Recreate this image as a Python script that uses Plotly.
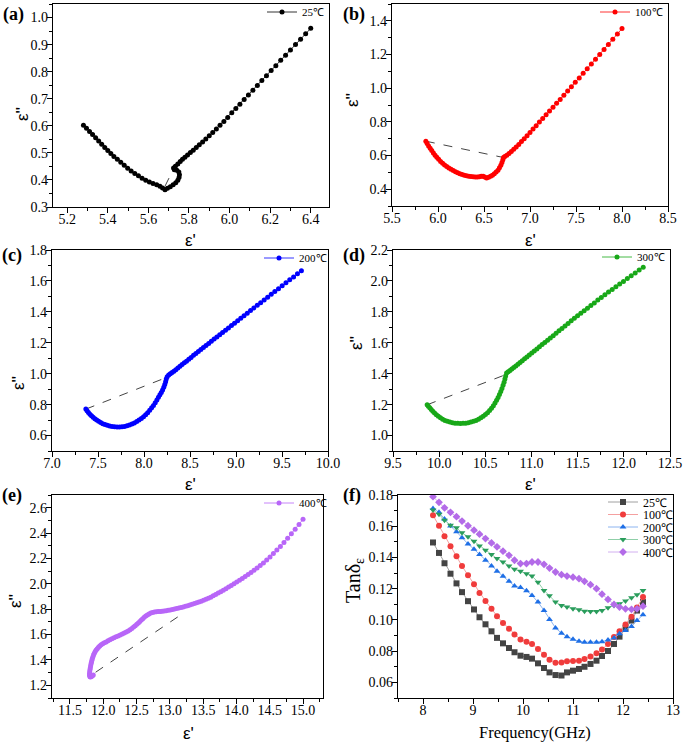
import plotly.graph_objects as go

# ---------------- data ----------------
# (a) 25 C  Cole-Cole
a_eps1 = [6.400, 6.375, 6.350, 6.325, 6.300, 6.276, 6.252, 6.228, 6.205, 6.182,
          6.159, 6.137, 6.115, 6.093, 6.072, 6.051, 6.031, 6.011, 5.991, 5.972,
          5.953, 5.935, 5.917, 5.900, 5.883, 5.867, 5.851, 5.836, 5.821, 5.807,
          5.793, 5.780, 5.768,
          5.757, 5.745, 5.733, 5.724, 5.728, 5.740, 5.750, 5.753, 5.751, 5.745,
          5.735, 5.722, 5.708, 5.694, 5.682,
          5.670, 5.657, 5.641, 5.623, 5.605, 5.587, 5.569, 5.551, 5.533, 5.515,
          5.498, 5.481, 5.464, 5.447, 5.430, 5.415, 5.400, 5.385, 5.370, 5.355,
          5.340, 5.325, 5.310, 5.295, 5.280]
a_eps2 = [0.960, 0.940, 0.920, 0.900, 0.880, 0.861, 0.842, 0.822, 0.804, 0.785,
          0.767, 0.749, 0.731, 0.714, 0.697, 0.680, 0.664, 0.648, 0.631, 0.616,
          0.602, 0.588, 0.575, 0.563, 0.551, 0.540, 0.530, 0.520, 0.510, 0.501,
          0.492, 0.484, 0.476,
          0.468, 0.459, 0.451, 0.444, 0.438, 0.436, 0.429, 0.419, 0.409, 0.399,
          0.390, 0.382, 0.375, 0.369, 0.364,
          0.370, 0.377, 0.382, 0.387, 0.392, 0.399, 0.406, 0.415, 0.424, 0.433,
          0.443, 0.454, 0.465, 0.476, 0.487, 0.498, 0.509, 0.520, 0.532, 0.544,
          0.556, 0.568, 0.579, 0.591, 0.602]
a_dash_x = [5.682, 5.726]
a_dash_y = [0.377, 0.444]

# (b) 100 C
b_eps1 = [8.000, 7.950, 7.900, 7.852, 7.805, 7.758, 7.712, 7.667, 7.622, 7.578,
          7.535, 7.492, 7.450, 7.409, 7.368, 7.328, 7.289, 7.250, 7.212, 7.175,
          7.138, 7.102, 7.067, 7.033, 7.000, 6.968, 6.937, 6.907, 6.878, 6.850,
          6.823, 6.797, 6.772, 6.748, 6.726, 6.712,
          6.705, 6.695, 6.683, 6.668, 6.652, 6.632, 6.612, 6.592, 6.572, 6.550,
          6.528, 6.508, 6.490, 6.470, 6.450, 6.428, 6.405, 6.382, 6.358, 6.334,
          6.310, 6.286, 6.262, 6.238, 6.214, 6.190, 6.166, 6.142, 6.118, 6.095,
          6.072, 6.050, 6.028, 6.007, 5.987, 5.968, 5.950, 5.932, 5.915, 5.898,
          5.882, 5.868]
b_eps2 = [1.354, 1.322, 1.290, 1.260, 1.230, 1.200, 1.172, 1.144, 1.115, 1.088,
          1.061, 1.035, 1.009, 0.983, 0.958, 0.933, 0.910, 0.887, 0.864, 0.842,
          0.820, 0.799, 0.777, 0.757, 0.737, 0.718, 0.700, 0.683, 0.666, 0.651,
          0.637, 0.624, 0.612, 0.601, 0.594, 0.588,
          0.575, 0.558, 0.542, 0.527, 0.513, 0.502, 0.492, 0.483, 0.476, 0.471,
          0.467, 0.472, 0.477, 0.476, 0.474, 0.473, 0.473, 0.474, 0.475, 0.477,
          0.480, 0.483, 0.487, 0.492, 0.498, 0.504, 0.511, 0.518, 0.526, 0.534,
          0.544, 0.554, 0.565, 0.577, 0.589, 0.602, 0.615, 0.629, 0.643, 0.657,
          0.671, 0.685]
b_dash_x = [5.868, 6.712]
b_dash_y = [0.685, 0.588]

# (c) 200 C
c_eps1 = [9.711, 9.668, 9.626, 9.584, 9.543, 9.502, 9.462, 9.422, 9.383, 9.344,
          9.306, 9.268, 9.231, 9.194, 9.158, 9.122, 9.087, 9.052, 9.018, 8.984,
          8.951, 8.918, 8.886, 8.854, 8.823, 8.792, 8.762, 8.732, 8.703, 8.674,
          8.646, 8.618, 8.591, 8.564, 8.538, 8.512, 8.487, 8.462, 8.438, 8.414,
          8.391, 8.368, 8.346, 8.325, 8.305, 8.286, 8.268,
          8.252, 8.242, 8.235, 8.226, 8.215, 8.202, 8.188, 8.173, 8.157, 8.140,
          8.122, 8.103, 8.083, 8.062, 8.040, 8.018, 7.995, 7.971, 7.946, 7.921,
          7.895, 7.869, 7.842, 7.815, 7.788, 7.761, 7.734, 7.707, 7.680, 7.653,
          7.627, 7.601, 7.576, 7.552, 7.529, 7.507, 7.486, 7.466, 7.447, 7.429,
          7.412, 7.396, 7.381, 7.368]
c_eps2 = [1.666, 1.646, 1.626, 1.607, 1.588, 1.568, 1.550, 1.531, 1.513, 1.495,
          1.477, 1.459, 1.442, 1.425, 1.408, 1.391, 1.375, 1.359, 1.343, 1.327,
          1.312, 1.296, 1.281, 1.266, 1.252, 1.238, 1.224, 1.210, 1.196, 1.183,
          1.170, 1.156, 1.144, 1.131, 1.119, 1.105, 1.093, 1.081, 1.070, 1.059,
          1.048, 1.037, 1.026, 1.016, 1.007, 0.999, 0.992,
          0.980, 0.965, 0.948, 0.930, 0.912, 0.894, 0.879, 0.864, 0.847, 0.830,
          0.812, 0.795, 0.779, 0.763, 0.748, 0.734, 0.722, 0.711, 0.700, 0.690,
          0.681, 0.674, 0.668, 0.663, 0.659, 0.657, 0.656, 0.656, 0.657, 0.659,
          0.662, 0.666, 0.671, 0.677, 0.684, 0.692, 0.700, 0.709, 0.718, 0.728,
          0.738, 0.749, 0.760, 0.771]
c_dash_x = [7.368, 8.242]
c_dash_y = [0.771, 0.975]

# (d) 300 C
d_eps1 = [12.210, 12.166, 12.123, 12.080, 12.038, 11.996, 11.955, 11.914, 11.874, 11.834,
          11.795, 11.756, 11.718, 11.680, 11.643, 11.606, 11.570, 11.534, 11.499, 11.464,
          11.430, 11.396, 11.363, 11.330, 11.298, 11.266, 11.235, 11.204, 11.174, 11.144,
          11.115, 11.086, 11.058, 11.030, 11.003, 10.976, 10.950, 10.925, 10.900, 10.876,
          10.853, 10.830, 10.808, 10.787, 10.767, 10.748, 10.730,
          10.720, 10.712, 10.703, 10.692, 10.680, 10.667, 10.653, 10.638, 10.622, 10.605,
          10.587, 10.567, 10.546, 10.524, 10.501, 10.477, 10.452, 10.426, 10.399, 10.372,
          10.344, 10.316, 10.288, 10.259, 10.230, 10.201, 10.172, 10.144, 10.116, 10.089,
          10.063, 10.038, 10.014, 9.991, 9.970, 9.950, 9.931, 9.914, 9.898, 9.883,
          9.870]
d_eps2 = [2.088, 2.070, 2.052, 2.033, 2.015, 1.997, 1.980, 1.962, 1.945, 1.928,
          1.911, 1.893, 1.876, 1.858, 1.841, 1.824, 1.807, 1.791, 1.775, 1.758,
          1.742, 1.725, 1.709, 1.693, 1.677, 1.661, 1.646, 1.631, 1.616, 1.602,
          1.588, 1.574, 1.560, 1.547, 1.534, 1.521, 1.508, 1.496, 1.484, 1.472,
          1.461, 1.450, 1.440, 1.430, 1.421, 1.412, 1.404,
          1.385, 1.365, 1.345, 1.325, 1.305, 1.285, 1.265, 1.246, 1.228, 1.210,
          1.193, 1.177, 1.162, 1.148, 1.136, 1.125, 1.115, 1.106, 1.098, 1.092,
          1.087, 1.083, 1.080, 1.079, 1.078, 1.079, 1.080, 1.083, 1.087, 1.092,
          1.098, 1.106, 1.115, 1.125, 1.135, 1.146, 1.157, 1.168, 1.179, 1.190,
          1.199]
d_dash_x = [9.870, 10.725]
d_dash_y = [1.199, 1.395]

# (e) 400 C
e_eps1 = [15.000, 14.940, 14.882, 14.825, 14.769, 14.714, 14.660, 14.607, 14.555, 14.504,
          14.454, 14.405, 14.357, 14.310, 14.264, 14.219, 14.175, 14.131, 14.088, 14.046,
          14.004, 13.963, 13.922, 13.882, 13.842, 13.803, 13.764, 13.726, 13.688, 13.651,
          13.614, 13.578, 13.542, 13.506, 13.471, 13.436, 13.402, 13.368, 13.334, 13.300,
          13.267, 13.234, 13.201, 13.168, 13.135, 13.102, 13.070, 13.038, 13.006, 12.975,
          12.944, 12.914, 12.884, 12.855, 12.826, 12.797, 12.768, 12.740, 12.713, 12.687,
          12.662, 12.638, 12.615, 12.593, 12.571, 12.549, 12.527, 12.504, 12.480, 12.455,
          12.429, 12.402, 12.374, 12.345, 12.315, 12.285, 12.254, 12.223, 12.192, 12.161,
          12.130, 12.100, 12.071, 12.043, 12.016, 11.991, 11.968, 11.947, 11.928, 11.910,
          11.894, 11.879, 11.866, 11.855, 11.845, 11.836, 11.829, 11.822, 11.816, 11.810,
          11.805, 11.800, 11.796, 11.793, 11.794, 11.800, 11.810, 11.823, 11.837, 11.850]
e_eps2 = [2.508, 2.468, 2.430, 2.394, 2.359, 2.326, 2.295, 2.266, 2.238, 2.212,
          2.188, 2.165, 2.145, 2.125, 2.106, 2.089, 2.073, 2.057, 2.042, 2.028,
          2.014, 2.000, 1.987, 1.974, 1.961, 1.949, 1.938, 1.927, 1.916, 1.905,
          1.895, 1.886, 1.878, 1.870, 1.863, 1.856, 1.850, 1.844, 1.838, 1.833,
          1.828, 1.823, 1.818, 1.813, 1.809, 1.805, 1.801, 1.797, 1.794, 1.791,
          1.788, 1.786, 1.784, 1.782, 1.781, 1.780, 1.777, 1.774, 1.769, 1.762,
          1.755, 1.746, 1.736, 1.725, 1.714, 1.703, 1.692, 1.681, 1.670, 1.659,
          1.648, 1.638, 1.629, 1.620, 1.612, 1.604, 1.596, 1.589, 1.582, 1.574,
          1.567, 1.559, 1.551, 1.542, 1.535, 1.527, 1.519, 1.510, 1.500, 1.489,
          1.478, 1.466, 1.453, 1.440, 1.426, 1.412, 1.397, 1.382, 1.367, 1.352,
          1.337, 1.322, 1.307, 1.292, 1.278, 1.268, 1.266, 1.270, 1.276, 1.282]
e_dash_x = [11.885, 13.175]
e_dash_y = [1.303, 1.759]

# (f) tan delta vs frequency
freq = [8.20, 8.32, 8.43, 8.55, 8.67, 8.78, 8.90, 9.02, 9.13, 9.25,
        9.37, 9.48, 9.60, 9.72, 9.83, 9.95, 10.07, 10.18, 10.30, 10.42,
        10.53, 10.65, 10.77, 10.88, 11.00, 11.12, 11.23, 11.35, 11.47, 11.58,
        11.70, 11.82, 11.93, 12.05, 12.17, 12.28, 12.40]
tan_25 = [0.1496, 0.1429, 0.1363, 0.1296, 0.1234, 0.1178, 0.1120, 0.1067, 0.1017, 0.0972,
          0.0927, 0.0885, 0.0850, 0.0820, 0.0793, 0.0771, 0.0763, 0.0752, 0.0722, 0.0692,
          0.0664, 0.0647, 0.0644, 0.0664, 0.0675, 0.0686, 0.0700, 0.0718, 0.0739, 0.0769,
          0.0801, 0.0846, 0.0893, 0.0947, 0.0996, 0.1060, 0.1114]
tan_100 = [0.1670, 0.1603, 0.1536, 0.1472, 0.1408, 0.1345, 0.1286, 0.1228, 0.1172, 0.1121,
           0.1072, 0.1024, 0.0981, 0.0943, 0.0906, 0.0874, 0.0861, 0.0846, 0.0814, 0.0777,
           0.0745, 0.0726, 0.0728, 0.0735, 0.0737, 0.0739, 0.0750, 0.0765, 0.0786, 0.0810,
           0.0846, 0.0890, 0.0928, 0.0970, 0.1020, 0.1080, 0.1146]
tan_200 = [0.1714, 0.1689, 0.1646, 0.1601, 0.1564, 0.1526, 0.1487, 0.1453, 0.1419, 0.1382,
           0.1345, 0.1311, 0.1279, 0.1247, 0.1217, 0.1207, 0.1187, 0.1157, 0.1114, 0.1061,
           0.1003, 0.0949, 0.0915, 0.0893, 0.0876, 0.0863, 0.0857, 0.0857, 0.0857, 0.0861,
           0.0872, 0.0885, 0.0911, 0.0932, 0.0958, 0.0996, 0.1033]
tan_300 = [0.1704, 0.1676, 0.1639, 0.1607, 0.1590, 0.1558, 0.1532, 0.1504, 0.1474, 0.1446,
           0.1419, 0.1393, 0.1371, 0.1345, 0.1324, 0.1311, 0.1296, 0.1281, 0.1242, 0.1189,
           0.1155, 0.1114, 0.1093, 0.1082, 0.1071, 0.1065, 0.1056, 0.1054, 0.1054, 0.1061,
           0.1078, 0.1093, 0.1104, 0.1121, 0.1142, 0.1161, 0.1189]
tan_400 = [0.1789, 0.1753, 0.1718, 0.1689, 0.1661, 0.1633, 0.1603, 0.1575, 0.1549, 0.1521,
           0.1493, 0.1468, 0.1440, 0.1414, 0.1382, 0.1361, 0.1361, 0.1371, 0.1371, 0.1356,
           0.1332, 0.1307, 0.1290, 0.1281, 0.1274, 0.1264, 0.1247, 0.1226, 0.1200, 0.1165,
           0.1131, 0.1099, 0.1082, 0.1071, 0.1068, 0.1071, 0.1088]

temp_labels = ["25℃", "100℃", "200℃", "300℃", "400℃"]
panel_labels = ["(a)", "(b)", "(c)", "(d)", "(e)", "(f)"]

# ---------------- figure ----------------
W, H = 685, 745
SERIF = "Liberation Serif"
SANS = "Liberation Sans"

def px_x(p):
    return p / W

def px_y(p):
    return 1 - p / H

fig = go.Figure()

cole = [
    (a_eps1, a_eps2, a_dash_x, a_dash_y, "#000000", temp_labels[0]),
    (b_eps1, b_eps2, b_dash_x, b_dash_y, "#FF0000", temp_labels[1]),
    (c_eps1, c_eps2, c_dash_x, c_dash_y, "#0000FF", temp_labels[2]),
    (d_eps1, d_eps2, d_dash_x, d_dash_y, "#18A818", temp_labels[3]),
    (e_eps1, e_eps2, e_dash_x, e_dash_y, "#B866F8", temp_labels[4]),
]
for i, (xs, ys, dx, dy, col, name) in enumerate(cole):
    k = "" if i == 0 else str(i + 1)
    fig.add_trace(go.Scatter(x=dx, y=dy, mode="lines", xaxis="x" + k, yaxis="y" + k,
                             line=dict(color="#444444", width=1, dash="dash"),
                             showlegend=False, hoverinfo="skip"))
    fig.add_trace(go.Scatter(x=xs, y=ys, mode="lines+markers", name=name,
                             xaxis="x" + k, yaxis="y" + k,
                             line=dict(color=col, width=0.8),
                             marker=dict(color=col, size=5),
                             legend="legend" + k))

f_series = [
    (tan_25, temp_labels[0], "#444444", "#A0A0A0", "square"),
    (tan_100, temp_labels[1], "#F03C3C", "#F4A0A0", "circle"),
    (tan_200, temp_labels[2], "#1E6FE6", "#8CB4F0", "triangle-up"),
    (tan_300, temp_labels[3], "#2A9D5C", "#8FCFA8", "triangle-down"),
    (tan_400, temp_labels[4], "#B36BE8", "#D2B0F0", "diamond"),
]
for j, (ys, name, mc, lc, sym) in enumerate(f_series):
    fig.add_trace(go.Scatter(x=freq, y=ys, mode="lines+markers", name=name,
                             xaxis="x6", yaxis="y6",
                             line=dict(color=lc, width=1),
                             marker=dict(color=mc, size=6, symbol=sym),
                             legend="legend" + str(6 + j)))

def axis(domain, rng, dtick, tick0, mdtick, fmt, anchor, standoff):
    return dict(domain=domain, range=rng, dtick=dtick, tick0=tick0, tickformat=fmt,
                showline=True, linecolor="black", linewidth=1.2, mirror=True,
                ticks="outside", ticklen=5, tickwidth=1.1, tickcolor="black",
                minor=dict(ticks="outside", ticklen=3, tickwidth=1, tickcolor="black",
                           dtick=mdtick, tick0=tick0),
                showgrid=False, zeroline=False, anchor=anchor, automargin=False,
                ticklabelstandoff=standoff,
                tickfont=dict(family=SERIF, size=14, color="black"))

# panel boxes in pixels: (left, right, top, bottom)
boxes = [(53, 329, 4, 207), (392, 668, 4, 206),
         (52, 328, 250, 451), (393, 670, 250, 451),
         (52, 323, 495, 698), (398, 673, 495, 698)]
xspec = [([5.13, 6.49], 0.2, 5.2, 0.1, ".1f"),
         ([5.5, 8.5], 0.5, 5.5, 0.25, ".1f"),
         ([7.0, 10.0], 0.5, 7.0, 0.25, ".1f"),
         ([9.5, 12.5], 0.5, 9.5, 0.25, ".1f"),
         ([11.23, 15.3], 0.5, 11.5, 0.25, ".1f"),
         ([7.5, 13.0], 1, 8, 0.5, "d")]
yspec = [([0.3, 1.05], 0.1, 0.3, 0.05, ".1f"),
         ([0.3, 1.5], 0.2, 0.4, 0.1, ".1f"),
         ([0.5, 1.8], 0.2, 0.6, 0.1, ".1f"),
         ([0.9, 2.2], 0.2, 1.0, 0.1, ".1f"),
         ([1.1, 2.7], 0.2, 1.2, 0.1, ".1f"),
         ([0.05, 0.18], 0.02, 0.06, 0.01, ".2f")]

layout = dict(width=W, height=H,
              margin=dict(l=0, r=0, t=0, b=0, pad=0, autoexpand=False),
              paper_bgcolor="white", plot_bgcolor="white")
for i in range(6):
    k = "" if i == 0 else str(i + 1)
    l, r, t, b = boxes[i]
    layout["xaxis" + k] = axis([px_x(l), px_x(r)], *xspec[i], anchor="y" + k, standoff=-6)
    layout["yaxis" + k] = axis([px_y(b), px_y(t)], *yspec[i], anchor="x" + k, standoff=-4)

# legends: (text start x, centre y, font size)
leg_pos = [(302, 12, 11), (635, 12, 11), (299, 258, 11), (637, 257, 11), (299, 503, 11),
           (643, 502, 12), (643, 514.5, 12), (643, 527, 12), (643, 539.5, 12), (643, 552, 12)]
for i, (x, y, fs) in enumerate(leg_pos):
    k = "" if i == 0 else str(i + 1)
    layout["legend" + k] = dict(x=px_x(x - 40), y=px_y(y), xanchor="left", yanchor="middle",
                                bgcolor="rgba(0,0,0,0)", borderwidth=0,
                                font=dict(family=SERIF, size=fs, color="black"),
                                tracegroupgap=0)
fig.update_layout(**layout)

ann = []

def note(text, x, y, font, angle=0):
    ann.append(dict(text=text, x=px_x(x), y=px_y(y), xref="paper", yref="paper",
                    xanchor="center", yanchor="middle", showarrow=False,
                    textangle=angle, font=font))

label_pos = [(13, 15), (354, 15), (12, 255), (354, 255), (12, 495), (352, 495)]
for lab, (x, y) in zip(panel_labels, label_pos):
    note("<b>" + lab + "</b>", x, y, dict(family=SERIF, size=18, color="black"))
xt_pos = [(190, 241), (530, 241), (190, 484), (530, 484), (188, 733)]
for x, y in xt_pos:
    note("ε'", x, y, dict(family=SANS, size=17, color="black"))
yt_pos = [(22, 114), (352, 100), (18, 383), (357, 343), (15, 601)]
for x, y in yt_pos:
    note("ε''", x, y, dict(family=SANS, size=17, color="black"), angle=-90)
note("Frequency(GHz)", 535, 732, dict(family=SERIF, size=16.5, color="black"))
note("Tanδ<sub>ε</sub>", 354, 581, dict(family=SERIF, size=20, color="black"), angle=-90)
fig.update_layout(annotations=ann)

fig.write_html("out.html", config={"displayModeBar": False},
               post_script="document.body.style.margin='0px';")
